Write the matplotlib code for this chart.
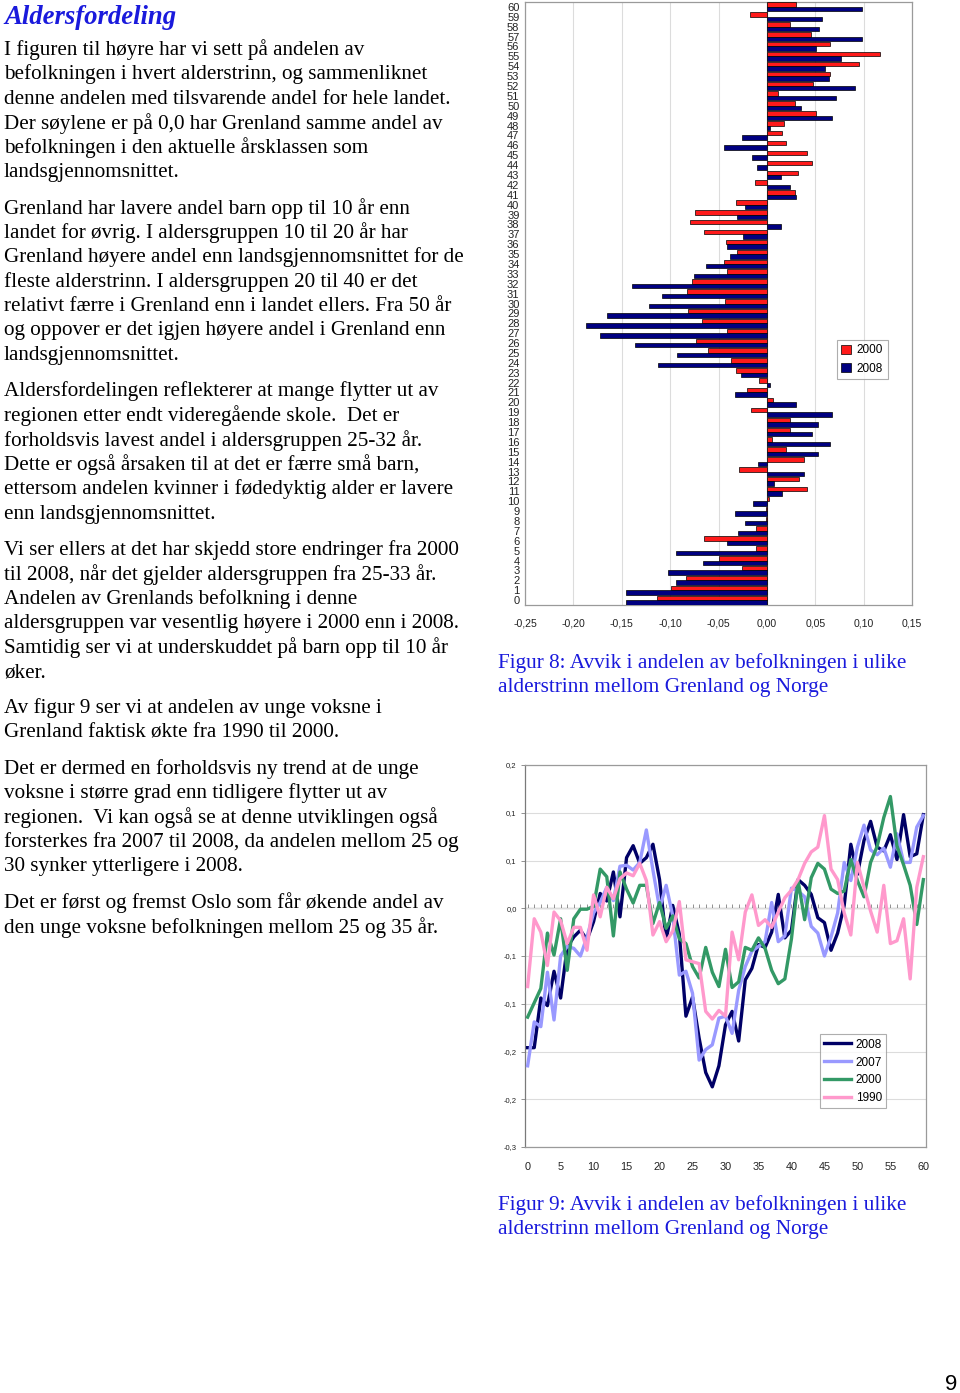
import numpy as np
import matplotlib
matplotlib.use("Agg")
import matplotlib.pyplot as plt
from matplotlib.ticker import FixedLocator, FixedFormatter

# ---- data ----
ages = list(range(61))

dev_2000 = [-0.114, -0.099, -0.084, -0.026, -0.049, -0.011, -0.065, -0.011, -0.001, -0.001,
            0.002, 0.041, 0.033, -0.029, 0.038, 0.020, 0.0055, 0.024, 0.024, -0.016,
            0.006, -0.021, -0.008, -0.032, -0.037, -0.061, -0.073, -0.041, -0.067, -0.082,
            -0.043, -0.083, -0.077, -0.041, -0.044, -0.031, -0.042, -0.065, -0.079, -0.074,
            -0.032, 0.029, -0.012, 0.032, 0.047, 0.041, 0.020, 0.0155, 0.018, 0.051,
            0.029, 0.012, 0.048, 0.065, 0.095, 0.117, 0.065, 0.0455, 0.024, -0.017,
            0.030]

dev_2008 = [-0.146, -0.146, -0.094, -0.102, -0.066, -0.094, -0.041, -0.030, -0.023, -0.033,
            -0.014, 0.0155, 0.0076, 0.038, -0.009, 0.053, 0.0655, 0.047, 0.053, 0.067,
            0.030, -0.033, 0.003, -0.027, -0.113, -0.093, -0.136, -0.172, -0.187, -0.165,
            -0.122, -0.108, -0.139, -0.075, -0.063, -0.038, -0.041, -0.025, 0.0145, -0.031,
            -0.023, 0.030, 0.024, 0.0145, -0.010, -0.015, -0.044, -0.026, 0.003, 0.067,
            0.0355, 0.071, 0.091, 0.064, 0.060, 0.077, 0.051, 0.098, 0.054, 0.057,
            0.098]

dev_2007 = [-0.165, -0.119, -0.124, -0.067, -0.117, -0.050, -0.040, -0.042, -0.050, -0.030,
            -0.005, 0.006, 0.022, 0.008, 0.044, 0.045, 0.040, 0.048, 0.082, 0.040,
            0.000, 0.024, -0.008, -0.070, -0.066, -0.089, -0.159, -0.148, -0.143, -0.115,
            -0.113, -0.131, -0.086, -0.061, -0.045, -0.040, -0.035, 0.006, -0.035, -0.029,
            0.021, 0.018, 0.012, -0.019, -0.026, -0.050, -0.030, -0.005, 0.048, 0.029,
            0.064, 0.087, 0.061, 0.056, 0.063, 0.043, 0.078, 0.048, 0.048, 0.085,
            0.097]

dev_1990 = [-0.082, -0.011, -0.025, -0.060, -0.004, -0.013, -0.037, -0.020, -0.020, -0.044,
            0.014, -0.009, 0.022, 0.010, 0.031, 0.037, 0.034, 0.047, 0.029, -0.028,
            -0.014, -0.035, -0.024, 0.007, -0.054, -0.056, -0.058, -0.108, -0.116, -0.107,
            -0.113, -0.025, -0.054, -0.004, 0.014, -0.018, -0.012, -0.020, -0.004, 0.011,
            0.019, 0.030, 0.047, 0.059, 0.064, 0.097, 0.041, 0.030, -0.005, -0.028,
            0.048, 0.022, -0.003, -0.025, 0.024, -0.037, -0.034, -0.011, -0.074, 0.022,
            0.054]

value_ticks = [-0.25, -0.20, -0.15, -0.10, -0.05, 0.00, 0.05, 0.10, 0.15]
bar_tick_labels = ["-0,25", "-0,20", "-0,15", "-0,10", "-0,05", "0,00", "0,05", "0,10", "0,15"]
line_tick_labels = ["-0,3", "-0,2", "-0,2", "-0,1", "-0,1", "0,0", "0,1", "0,1", "0,2"]
line_x_ticks = list(range(0, 61, 5))

paragraphs = [
    ["I figuren til høyre har vi sett på andelen av",
     "befolkningen i hvert alderstrinn, og sammenliknet",
     "denne andelen med tilsvarende andel for hele landet.",
     "Der søylene er på 0,0 har Grenland samme andel av",
     "befolkningen i den aktuelle årsklassen som",
     "landsgjennomsnittet."],
    ["Grenland har lavere andel barn opp til 10 år enn",
     "landet for øvrig. I aldersgruppen 10 til 20 år har",
     "Grenland høyere andel enn landsgjennomsnittet for de",
     "fleste alderstrinn. I aldersgruppen 20 til 40 er det",
     "relativt færre i Grenland enn i landet ellers. Fra 50 år",
     "og oppover er det igjen høyere andel i Grenland enn",
     "landsgjennomsnittet."],
    ["Aldersfordelingen reflekterer at mange flytter ut av",
     "regionen etter endt videregående skole.  Det er",
     "forholdsvis lavest andel i aldersgruppen 25-32 år.",
     "Dette er også årsaken til at det er færre små barn,",
     "ettersom andelen kvinner i fødedyktig alder er lavere",
     "enn landsgjennomsnittet."],
    ["Vi ser ellers at det har skjedd store endringer fra 2000",
     "til 2008, når det gjelder aldersgruppen fra 25-33 år.",
     "Andelen av Grenlands befolkning i denne",
     "aldersgruppen var vesentlig høyere i 2000 enn i 2008.",
     "Samtidig ser vi at underskuddet på barn opp til 10 år",
     "øker."],
    ["Av figur 9 ser vi at andelen av unge voksne i",
     "Grenland faktisk økte fra 1990 til 2000."],
    ["Det er dermed en forholdsvis ny trend at de unge",
     "voksne i større grad enn tidligere flytter ut av",
     "regionen.  Vi kan også se at denne utviklingen også",
     "forsterkes fra 2007 til 2008, da andelen mellom 25 og",
     "30 synker ytterligere i 2008."],
    ["Det er først og fremst Oslo som får økende andel av",
     "den unge voksne befolkningen mellom 25 og 35 år."],
]

caption8 = ["Figur 8: Avvik i andelen av befolkningen i ulike",
            "alderstrinn mellom Grenland og Norge"]
caption9 = ["Figur 9: Avvik i andelen av befolkningen i ulike",
            "alderstrinn mellom Grenland og Norge"]

# ---- figure ----
W, H = 960, 1393
fig = plt.figure(figsize=(W / 100, H / 100), dpi=100)
fig.patch.set_facecolor("white")

SANS = ["Liberation Sans", "DejaVu Sans"]
SERIF = ["Liberation Serif", "DejaVu Serif"]
BLUE_TXT = "#1a1adc"
GRID = "#dcdcdc"
FRAME = "#9a9a9a"


def px_axes(left, top, right, bottom):
    return fig.add_axes([left / W, 1 - bottom / H, (right - left) / W, (bottom - top) / H])


def px_text(x, y, s, **kw):
    return fig.text(x / W, 1 - y / H, s, **kw)


# ---- left column text ----
px_text(4, 17, "Aldersfordeling", family=SERIF, fontsize=19.3, fontweight="bold",
        fontstyle="italic", color=BLUE_TXT, va="center", ha="left")

y = 50
line_step = 24.5
for para in paragraphs:
    for line in para:
        px_text(4, y, line, family=SERIF, fontsize=15.2, color="black", va="center", ha="left")
        y += line_step
    y += 11.5

for i, line in enumerate(caption8):
    px_text(498, 663 + i * 24.5, line, family=SERIF, fontsize=15.3, color=BLUE_TXT,
            va="center", ha="left")
for i, line in enumerate(caption9):
    px_text(498, 1205 + i * 24.5, line, family=SERIF, fontsize=15.3, color=BLUE_TXT,
            va="center", ha="left")

px_text(951, 1384, "9", family=SANS, fontsize=16, color="black", va="center", ha="center")

# ---- Figure 8: horizontal bars ----
ax = px_axes(525, 2, 912, 605)
ages_arr = np.array(ages)
bh = 0.45
ax.barh(ages_arr + bh / 2, dev_2000, height=bh, color="#ff1a1a", edgecolor="black",
        linewidth=0.5, label="2000", zorder=3)
ax.barh(ages_arr - bh / 2, dev_2008, height=bh, color="#000080", edgecolor="black",
        linewidth=0.5, label="2008", zorder=3)
ax.set_xlim(value_ticks[0], value_ticks[-1])
ax.set_ylim(-0.5, 60.5)
ax.xaxis.set_major_locator(FixedLocator(value_ticks))
ax.xaxis.set_major_formatter(FixedFormatter(bar_tick_labels))
ax.set_yticks(ages)
ax.set_yticklabels([str(a) for a in ages], family=SANS, fontsize=8)
for lab in ax.get_xticklabels():
    lab.set_family(SANS)
    lab.set_fontsize(7.6)
ax.tick_params(axis="x", length=0, pad=10, colors="#222222")
ax.tick_params(axis="y", length=0, pad=4, colors="#222222")
ax.grid(axis="x", color=GRID, linewidth=0.8, zorder=0)
ax.axvline(0, color="#808080", linewidth=0.8, zorder=2)
for s in ax.spines.values():
    s.set_color(FRAME)
    s.set_linewidth(0.9)
leg = ax.legend(loc="upper left", bbox_to_anchor=(0.79, 0.45), frameon=True, fancybox=False,
                prop={"family": SANS, "size": 8.5}, handlelength=0.8, handleheight=0.8,
                handletextpad=0.5, borderpad=0.4, labelspacing=0.55)
leg.get_frame().set_edgecolor(FRAME)
leg.get_frame().set_linewidth(0.8)

# ---- Figure 9: lines ----
ax2 = px_axes(525, 765, 926, 1147)
ax2.plot(ages, dev_2008, color="#000066", linewidth=2.4, label="2008", zorder=3)
ax2.plot(ages, dev_2007, color="#9999ff", linewidth=2.4, label="2007", zorder=3)
ax2.plot(ages, dev_2000, color="#339966", linewidth=2.4, label="2000", zorder=3)
ax2.plot(ages, dev_1990, color="#ff99cc", linewidth=2.4, label="1990", zorder=3)
ax2.set_xlim(-0.4, 60.4)
ax2.set_ylim(value_ticks[0], value_ticks[-1])
ax2.yaxis.set_major_locator(FixedLocator(value_ticks))
ax2.yaxis.set_major_formatter(FixedFormatter(line_tick_labels))
ax2.set_xticks(line_x_ticks)
ax2.set_xticklabels([str(t) for t in line_x_ticks], family=SANS, fontsize=7.8)
for lab in ax2.get_yticklabels():
    lab.set_family(SANS)
    lab.set_fontsize(5.5)
ax2.tick_params(axis="x", length=0, pad=11, colors="#222222")
ax2.tick_params(axis="y", length=3, width=0.6, color="#808080", pad=3, colors="#222222")
ax2.grid(axis="y", color=GRID, linewidth=0.8, zorder=0)
for s in ax2.spines.values():
    s.set_color(FRAME)
    s.set_linewidth(0.9)
ax2.spines["left"].set_color("#7a7a7a")

# category axis crossing at zero, with a tick for each age
zero_pos = (0 - value_ticks[0]) / (value_ticks[-1] - value_ticks[0])
sec = ax2.secondary_xaxis(zero_pos)
sec.set_xticks(ages)
sec.set_xticklabels([])
sec.tick_params(axis="x", direction="out", length=3, width=0.6, color="#808080")
sec.spines["bottom"].set_color("#808080")
sec.spines["bottom"].set_linewidth(0.9)

leg2 = ax2.legend(loc="upper left", bbox_to_anchor=(0.72, 0.31), frameon=True, fancybox=False,
                  prop={"family": SANS, "size": 8.5}, handlelength=2.3, handletextpad=0.4,
                  borderpad=0.35, labelspacing=0.5)
leg2.get_frame().set_edgecolor(FRAME)
leg2.get_frame().set_linewidth(0.8)

fig.savefig("out.png", dpi=100, facecolor="white")
